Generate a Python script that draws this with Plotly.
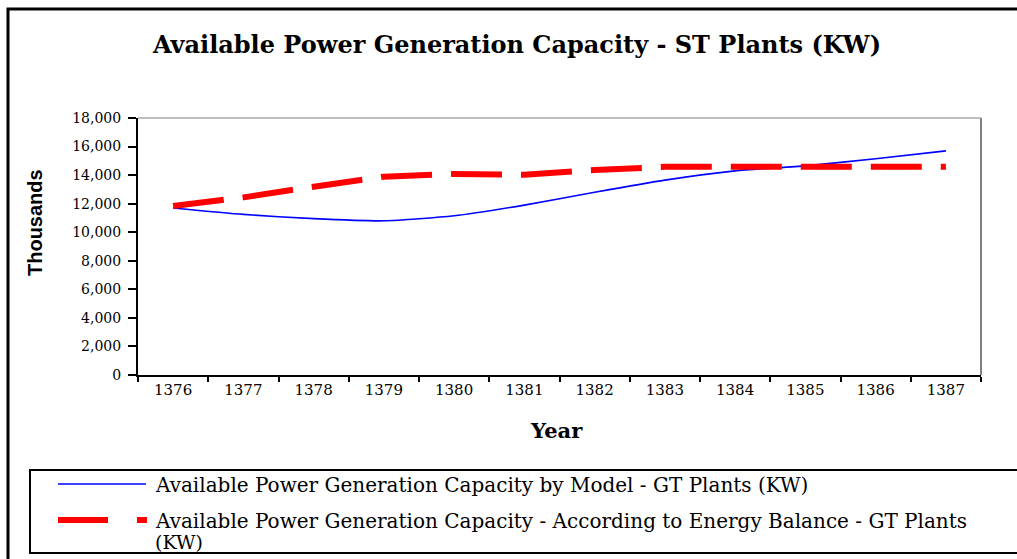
import plotly.graph_objects as go

years = ["1376", "1377", "1378", "1379", "1380", "1381",
         "1382", "1383", "1384", "1385", "1386", "1387"]
model_kw = [11700, 11250, 10950, 10800, 11150, 11900,
            12800, 13650, 14300, 14650, 15150, 15700]
balance_kw = [11830, 12440, 13190, 13890, 14080, 14030,
              14350, 14580, 14580, 14580, 14580, 14580]

model_name = "Available Power Generation Capacity by Model - GT Plants (KW)"
balance_name = "Available Power Generation Capacity - According to Energy Balance - GT Plants"

W, H = 1017, 559
L, R, T, B = 138, 36, 118, 184


def px(x):
    return (x - L) / (W - L - R)


def py(y):
    return (H - B - y) / (H - T - B)


serif = "DejaVu Serif"

fig = go.Figure()
fig.add_trace(go.Scatter(x=years, y=model_kw, name=model_name, mode="lines",
                         line=dict(color="#0000ff", width=1.6, shape="spline", smoothing=0.6),
                         showlegend=False))
fig.add_trace(go.Scatter(x=years, y=balance_kw, name=balance_name, mode="lines",
                         line=dict(color="#ff0000", width=6, dash="51px,19px"),
                         showlegend=False))

shapes = [
    # plot frame top / right (grey)
    dict(type="line", xref="paper", yref="paper", x0=0, x1=1, y0=1, y1=1,
         line=dict(color="#808080", width=1.2)),
    dict(type="line", xref="paper", yref="paper", x0=1, x1=1, y0=0, y1=1,
         line=dict(color="#808080", width=2)),
    # outer frame
    dict(type="rect", xref="paper", yref="paper", x0=px(8), x1=px(1040),
         y0=py(580), y1=py(9), line=dict(color="black", width=3)),
    # legend box
    dict(type="rect", xref="paper", yref="paper", x0=px(30), x1=px(1040),
         y0=py(553), y1=py(470), line=dict(color="black", width=2)),
    # legend samples
    dict(type="line", xref="paper", yref="paper", x0=px(58), x1=px(146),
         y0=py(484), y1=py(484), line=dict(color="#0000ff", width=1.6)),
    dict(type="line", xref="paper", yref="paper", x0=px(58), x1=px(108),
         y0=py(520), y1=py(520), line=dict(color="#ff0000", width=6)),
    dict(type="line", xref="paper", yref="paper", x0=px(137), x1=px(147),
         y0=py(520), y1=py(520), line=dict(color="#ff0000", width=6)),
]


def note(text, x, y, size, family=serif, bold=False, anchor="center", angle=0):
    return dict(text=text, xref="paper", yref="paper", x=px(x), y=py(y),
                xanchor=anchor, yanchor="middle", textangle=angle, showarrow=False,
                font=dict(family=family, size=size, color="black",
                          weight="bold" if bold else "normal"))


annotations = [
    note("Thousands", 35, 223, 20, family="Liberation Sans", bold=True, angle=-90),
    note("Year", 556, 430, 21, bold=True),
    note(model_name, 153, 485, 20, anchor="left"),
    note(balance_name, 153, 521, 20, anchor="left"),
    note("(KW)", 153, 542, 19, anchor="left"),
]

fig.update_layout(
    width=W, height=H,
    margin=dict(l=L, r=R, t=T, b=B),
    paper_bgcolor="white", plot_bgcolor="white",
    title=dict(text="<b>Available Power Generation Capacity - ST Plants (KW)</b>",
               x=517 / W, xanchor="center", y=1 - 45 / H, yanchor="middle",
               font=dict(family=serif, size=24, color="black")),
    shapes=shapes,
    annotations=annotations,
)
fig.update_xaxes(type="category", range=[-0.5, len(years) - 0.5], tickson="boundaries",
                 ticks="outside", ticklen=5, tickwidth=2, tickcolor="black",
                 showline=True, linecolor="black", linewidth=2, showgrid=False,
                 zeroline=False, tickfont=dict(family=serif, size=15, color="black"))
fig.update_yaxes(range=[0, 18000], dtick=2000, tickformat=",", ticks="outside",
                 ticklen=8, tickwidth=2, tickcolor="black", showline=True,
                 linecolor="black", linewidth=2, showgrid=False, zeroline=False,
                 ticklabelstandoff=4,
                 tickfont=dict(family=serif, size=14, color="black"))

fig.write_html("out.html", config={"displayModeBar": False},
               post_script="document.body.style.margin='0';")
